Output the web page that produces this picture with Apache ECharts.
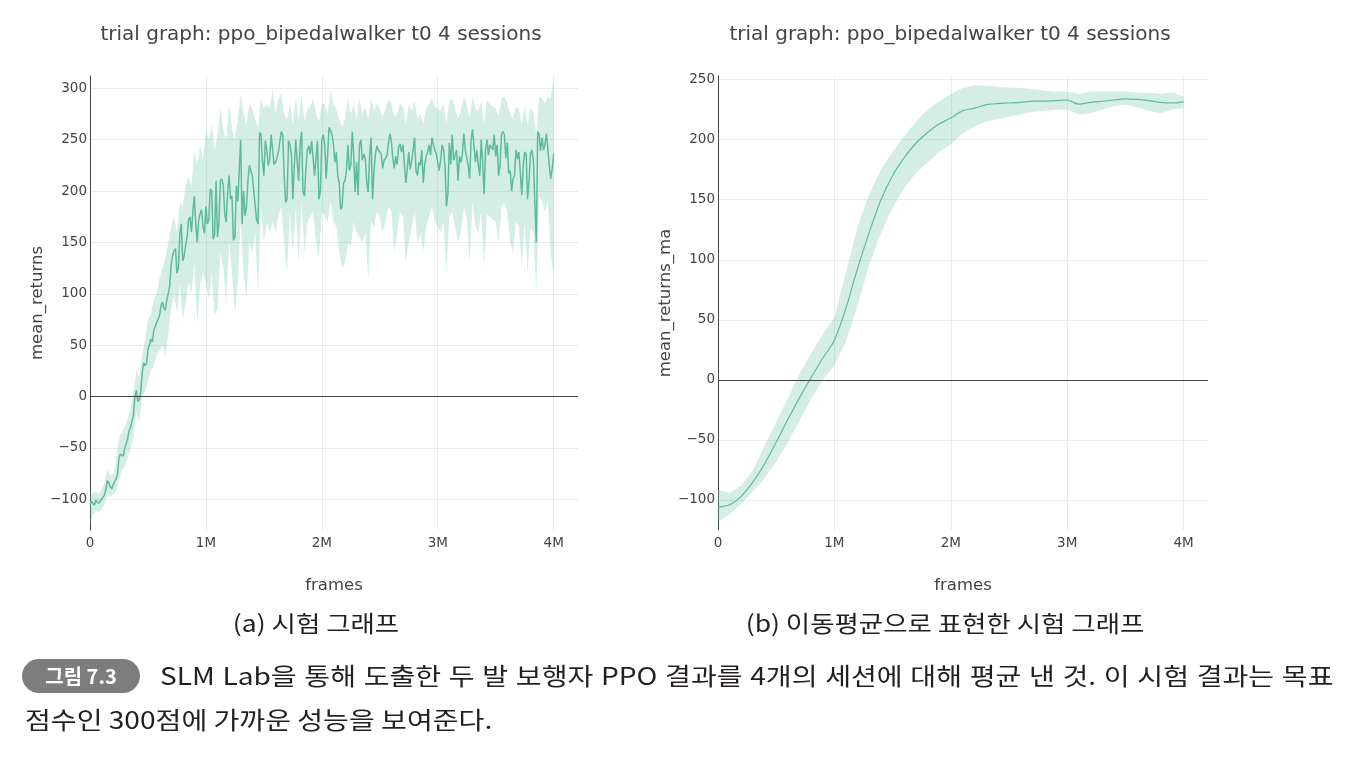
<!DOCTYPE html>
<html>
<head>
<meta charset="utf-8">
<script src="https://cdn.jsdelivr.net/npm/echarts@6/dist/echarts.min.js"></script>
<style>
  html, body { margin: 0; padding: 0; background: #fff; }
  #wrap { position: relative; width: 1351px; height: 760px; overflow: hidden; }
  #chart { position: absolute; left: 0; top: 0; width: 1351px; height: 760px; }
  .cap { position: absolute; font-family: 'Noto Sans CJK KR', sans-serif; color: #231f20; white-space: nowrap; transform-origin: 0 0; }
  #badge { left: 22px; top: 659px; width: 118px; height: 34px; border-radius: 17px; background: #7d7d7d;
    color: #fff; font-weight: bold; font-size: 20px; line-height: 34px; text-align: center; }
  #line1 { left: 160px; top: 657px; width: 1003px; font-size: 24px; line-height: 36px;
    text-align: justify; text-align-last: justify; transform: scaleX(1.17); }
  #line2 { left: 25px; top: 701px; font-size: 24px; line-height: 36px; transform: scaleX(1.17); }
</style>
</head>
<body>
<div id="wrap">
  <div id="chart"></div>
  <div class="cap" id="badge">그림 7.3</div>
  <div class="cap" id="line1">SLM Lab을 통해 도출한 두 발 보행자 PPO 결과를 4개의 세션에 대해 평균 낸 것. 이 시험 결과는 목표</div>
  <div class="cap" id="line2">점수인 300점에 가까운 성능을 보여준다.</div>
</div>
<script>
// (a) trial graph
// mean line: one point per 12.5k frames
var STEP_LINE = 12500;
var meanA = [
  -105, -102, -103, -106, -101, -100, -104, -103, -100, -99,
  -96, -90, -82, -84, -88, -90, -86, -83, -80, -76,
  -60, -56, -55, -58, -50, -46, -41, -33, -30, -24,
  -18, 0, 6, -5, -3, 4, 22, 33, 30, 32,
  46, 50, 56, 53, 64, 68, 72, 75, 79, 88,
  92, 86, 84, 94, 100, 108, 128, 137, 142, 144,
  120, 125, 158, 168, 132, 137, 147, 155, 172, 175,
  160, 180, 195, 168, 150, 172, 178, 182, 165, 159,
  185, 168, 172, 202, 200, 153, 158, 210, 155, 170,
  210, 212, 205, 178, 170, 199, 215, 192, 195, 152,
  155, 205, 190, 220, 250, 168, 200, 176, 185, 210,
  225, 220, 215, 200, 200, 172, 168, 257, 255, 230,
  215, 249, 240, 225, 230, 255, 255, 226, 228, 232,
  238, 248, 258, 255, 215, 189, 192, 249, 245, 236,
  192, 225, 250, 228, 210, 245, 258, 200, 195, 222,
  240, 244, 236, 249, 248, 215, 215, 249, 192, 200,
  250, 255, 245, 212, 235, 262, 262, 255, 246, 228,
  238, 215, 208, 182, 185, 208, 210, 220, 245, 220,
  225, 258, 235, 199, 228, 196, 245, 250, 230, 236,
  232, 208, 199, 235, 252, 192, 220, 236, 244, 240,
  240, 236, 222, 230, 232, 235, 247, 256, 248, 232,
  222, 234, 226, 243, 246, 238, 245, 226, 208, 222,
  238, 221, 230, 240, 252, 220, 215, 228, 225, 240,
  208, 226, 234, 238, 245, 235, 252, 245, 240, 236,
  235, 220, 230, 245, 240, 225, 185, 197, 247, 226,
  255, 230, 235, 240, 210, 234, 228, 236, 256, 240,
  240, 225, 212, 249, 260, 259, 228, 240, 225, 215,
  250, 228, 197, 240, 250, 235, 245, 245, 240, 255,
  234, 245, 215, 225, 255, 258, 255, 232, 247, 217,
  220, 200, 212, 215, 240, 231, 238, 218, 196, 225,
  238, 236, 192, 210, 236, 240, 230, 190, 150, 258,
  255, 239, 252, 240, 245, 256, 255, 225, 212, 222,
  236
];
// session spread: one point per 25k frames
var STEP_BAND = 25000;
var upperA = [
  -92, -95, -92, -95, -90, -85, -70, -78, -75, -65,
  -40, -35, -30, -22, -12, 5, 25, 20, 40, 55,
  75, 80, 95, 100, 115, 125, 135, 150, 165, 175,
  160, 190, 185, 205, 215, 205, 240, 225, 245, 230,
  260, 250, 265, 240, 255, 280, 260, 250, 285, 260,
  250, 270, 295, 275, 265, 285, 280, 270, 262, 290,
  280, 285, 280, 300, 275, 290, 295, 275, 270, 285,
  265, 290, 270, 295, 268, 280, 282, 290, 275, 268,
  285, 285, 275, 298, 285, 280, 270, 262, 270, 290,
  275, 285, 270, 290, 275, 282, 270, 290, 278, 285,
  280, 272, 280, 290, 285, 272, 275, 285, 282, 265,
  285, 278, 288, 270, 275, 265, 280, 285, 290, 282,
  280, 278, 285, 265, 288, 290, 280, 270, 278, 292,
  285, 272, 292, 280, 278, 288, 265, 288, 285, 282,
  280, 272, 290, 292, 285, 275, 270, 282, 280, 265,
  282, 265, 280, 278, 255, 292, 290, 285, 292, 290,
  312
];
var lowerA = [
  -125, -115, -112, -112, -110, -105, -95, -98, -95, -92,
  -80, -72, -68, -60, -50, -40, -15, -25, 0, 5,
  15, 25, 30, 40, 45, 50, 40, 60, 85, 100,
  80, 110, 75, 90, 110, 100, 130, 70, 110, 120,
  110, 95, 120, 80, 85, 140, 125, 90, 150, 120,
  80, 110, 170, 120, 95, 150, 140, 160, 100, 185,
  150, 170, 160, 170, 160, 175, 185, 150, 120, 180,
  140, 185, 130, 190, 140, 170, 175, 180, 150, 135,
  180, 175, 170, 190, 170, 165, 140, 125, 130, 150,
  145, 170, 160, 155, 150, 160, 115, 170, 165, 180,
  175, 160, 170, 185, 180, 140, 160, 180, 175, 130,
  150, 165, 180, 150, 160, 140, 165, 175, 185, 170,
  165, 160, 170, 120, 175, 180, 165, 150, 160, 185,
  175, 130, 190, 165, 160, 180, 125, 178, 175, 172,
  170, 150, 185, 188, 180, 150, 140, 170, 165, 125,
  170, 120, 165, 160, 100, 195, 190, 180, 190, 140,
  115
];

// (b) moving average
var framesB = [
  0, 100000, 200000, 300000, 400000, 500000, 600000, 700000, 800000, 900000,
  1000000, 1100000, 1200000, 1300000, 1400000, 1500000, 1600000, 1700000, 1800000, 1900000,
  2000000, 2100000, 2200000, 2300000, 2400000, 2500000, 2600000, 2700000, 2800000, 2900000,
  3000000, 3100000, 3200000, 3300000, 3400000, 3500000, 3600000, 3700000, 3800000, 3900000,
  4000000
];
var meanB = [
  -106, -104, -97, -85, -70, -52, -33, -15, 2, 18,
  33, 60, 93, 123, 150, 170, 185, 197, 206, 213,
  218, 224, 226, 229, 230, 230.5, 231, 232, 232, 232.5,
  233, 229.5, 231, 232, 233, 234, 233.5, 232.5, 231, 230.5,
  231.5
];
var upperB = [
  -92, -94, -88, -75, -55, -35, -15, 5, 22, 38,
  52, 90, 128, 155, 175, 190, 203, 215, 225, 232,
  238, 243, 245, 245, 244, 243.5, 243, 242, 241, 240,
  240, 238, 240, 240, 240, 240, 239, 239, 238, 239.5,
  236
];
var lowerB = [
  -118, -112, -103, -93, -82, -68, -52, -34, -16, 0,
  12, 32, 62, 96, 122, 143, 160, 172, 181, 190,
  196, 205, 211, 215, 217, 219, 221, 223, 224, 225,
  225, 221, 222, 225, 228, 229, 227, 224, 222, 225,
  226
];

var xTicks = [0, 1000000, 2000000, 3000000, 4000000];
var yTicksA = [-100, -50, 0, 50, 100, 150, 200, 250, 300];
var yTicksB = [-100, -50, 0, 50, 100, 150, 200, 250];

var TITLE = 'trial graph: ppo_bipedalwalker t0 4 sessions';
var LINE = '#5dbb9c';
var BAND = 'rgba(102,194,165,0.28)';
var TXT = '#444';
var GRIDC = '#ebebeb';
var FONT = '"DejaVu Sans", Verdana, sans-serif';
var KR = '"Noto Sans CJK KR"';

var framesLineA = meanA.map(function (v, i) { return i * STEP_LINE; });
var framesBandA = upperA.map(function (v, i) { return i * STEP_BAND; });

function pairs(xs, ys) {
  return ys.map(function (y, i) { return [xs[i], y]; });
}

// band polygon drawn through the axes
function bandRender(xs, lo, hi) {
  return function (params, api) {
    var pts = [];
    for (var i = 0; i < xs.length; i++) pts.push(api.coord([xs[i], hi[i]]));
    for (var j = xs.length - 1; j >= 0; j--) pts.push(api.coord([xs[j], lo[j]]));
    return {
      type: 'polygon',
      shape: { points: pts },
      style: { fill: BAND },
      silent: true
    };
  };
}

function fmtX(v) {
  return v === 0 ? '0' : (v / 1000000) + 'M';
}
function fmtY(v) {
  return v < 0 ? '\u2212' + Math.abs(v) : String(v);
}

function xAxis(idx) {
  return {
    type: 'value', gridIndex: idx, min: 0, max: 4210000,
    name: 'frames', nameLocation: 'middle', nameGap: 47,
    nameTextStyle: { fontFamily: FONT, fontSize: 16.5, color: TXT },
    axisLine: { show: false },
    axisTick: { show: false, customValues: xTicks },
    axisLabel: { customValues: xTicks, formatter: fmtX, fontFamily: FONT, fontSize: 13.5, color: TXT, margin: 6 },
    splitLine: { show: true, lineStyle: { color: GRIDC, width: 1 } }
  };
}
function yAxis(idx, name, min, max, ticks) {
  return {
    type: 'value', gridIndex: idx, min: min, max: max,
    name: name, nameLocation: 'middle', nameGap: 42,
    nameTextStyle: { fontFamily: FONT, fontSize: 16.5, color: TXT },
    axisLine: { show: true, onZero: false, lineStyle: { color: TXT, width: 1 } },
    axisTick: { show: false, customValues: ticks },
    axisLabel: { customValues: ticks, formatter: fmtY, fontFamily: FONT, fontSize: 13.5, color: TXT, margin: 3 },
    splitLine: { show: true, lineStyle: { color: GRIDC, width: 1 } }
  };
}

function zeroLine() {
  return {
    silent: true, symbol: 'none', label: { show: false },
    lineStyle: { color: TXT, width: 1, type: 'solid' },
    data: [{ yAxis: 0 }]
  };
}

var chart = echarts.init(document.getElementById('chart'));
chart.setOption({
  animation: false,
  backgroundColor: '#fff',
  title: [
    { text: TITLE, left: 316, top: 20, textAlign: 'center',
      textStyle: { fontFamily: FONT, fontSize: 20, fontWeight: 'normal', color: TXT } },
    { text: TITLE, left: 945, top: 20, textAlign: 'center',
      textStyle: { fontFamily: FONT, fontSize: 20, fontWeight: 'normal', color: TXT } }
  ],
  grid: [
    { left: 90, top: 76, width: 488, height: 454 },
    { left: 718, top: 76, width: 490, height: 454 }
  ],
  xAxis: [xAxis(0), xAxis(1)],
  yAxis: [
    yAxis(0, 'mean_returns', -130, 312, yTicksA),
    yAxis(1, 'mean_returns_ma', -125, 253, yTicksB)
  ],
  series: [
    { type: 'custom', xAxisIndex: 0, yAxisIndex: 0, clip: true, silent: true,
      renderItem: bandRender(framesBandA, lowerA, upperA), data: [[0, 0]] },
    { type: 'line', xAxisIndex: 0, yAxisIndex: 0, showSymbol: false, symbol: 'none',
      lineStyle: { color: LINE, width: 1.5 }, data: pairs(framesLineA, meanA), markLine: zeroLine(), z: 3 },
    { type: 'custom', xAxisIndex: 1, yAxisIndex: 1, clip: true, silent: true,
      renderItem: bandRender(framesB, lowerB, upperB), data: [[0, 0]] },
    { type: 'line', xAxisIndex: 1, yAxisIndex: 1, showSymbol: false, symbol: 'none', smooth: 0.3,
      lineStyle: { color: LINE, width: 1.2 }, data: pairs(framesB, meanB), markLine: zeroLine(), z: 3 }
  ],
  graphic: [
    { type: 'text', x: 316, y: 623, scaleX: 1.15, style: { text: '(a) 시험 그래프', align: 'center', verticalAlign: 'middle',
      font: '23px ' + KR, fill: '#231f20' } },
    { type: 'text', x: 945, y: 623, scaleX: 1.15, style: { text: '(b) 이동평균으로 표현한 시험 그래프', align: 'center', verticalAlign: 'middle',
      font: '23px ' + KR, fill: '#231f20' } }
  ]
});
</script>
</body>
</html>
